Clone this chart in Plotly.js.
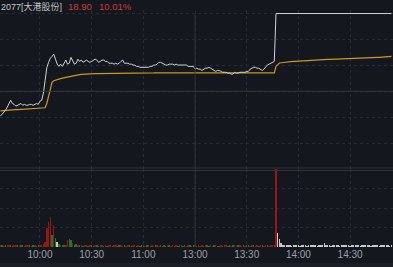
<!DOCTYPE html>
<html><head><meta charset="utf-8">
<script src="https://cdn.plot.ly/plotly-3.0.1.min.js"></script>
<style>html,body{margin:0;padding:0;background:#14171d;overflow:hidden}#c{width:393px;height:267px}</style>
</head><body><div id="c"></div>
<script>
// ---- data ----
const stockName = "2077[大港股份]";
const lastPrice = "18.90";
const changePct = "10.01%";
const prevClose = 17.18;
const limitUp = 18.90;
const limitDown = 15.46;
const firstMinute = 7; // minute index (09:30 = 0, 13:00 = 120) of the first sample
const tickMinutes = [30, 60, 90, 120, 150, 180, 210];
const tickLabels = ["10:00", "10:30", "11:00", "13:00", "13:30", "14:00", "14:30"];

const price = [
16.63,16.67,16.72,16.76,16.83,16.91,16.98,16.91,16.89,16.85,
16.87,16.89,16.91,16.87,16.89,16.87,16.87,16.89,16.89,16.87,
16.89,16.91,16.89,16.96,16.98,17.14,17.42,17.71,17.82,17.91,
17.95,18.00,17.89,17.78,17.73,17.78,17.73,17.80,17.87,17.78,
17.80,17.93,17.87,17.78,17.80,17.89,17.84,17.87,17.82,17.84,
17.87,17.84,17.82,17.84,17.87,17.89,17.87,17.82,17.84,17.87,
17.87,17.84,17.84,17.80,17.80,17.80,17.78,17.80,17.78,17.80,
17.84,17.87,17.80,17.80,17.80,17.78,17.78,17.76,17.76,17.73,
17.73,17.71,17.71,17.71,17.71,17.71,17.71,17.73,17.73,17.76,
17.76,17.78,17.82,17.82,17.80,17.78,17.76,17.76,17.78,17.78,
17.78,17.76,17.78,17.76,17.76,17.76,17.76,17.76,17.76,17.73,
17.73,17.73,17.73,17.67,17.69,17.67,17.67,17.64,17.67,17.69,
17.69,17.71,17.69,17.67,17.64,17.62,17.64,17.64,17.62,17.60,
17.60,17.60,17.58,17.58,17.56,17.56,17.60,17.58,17.58,17.60,
17.60,17.60,17.60,17.62,17.62,17.67,17.69,17.71,17.71,17.69,
17.69,17.67,17.64,17.67,17.73,17.76,17.78,17.80,17.82,17.84,
18.90,18.90,18.90,18.90,18.90,18.90,18.90,18.90,18.90,18.90,
18.90,18.90,18.90,18.90,18.90,18.90,18.90,18.90,18.90,18.90,
18.90,18.90,18.90,18.90,18.90,18.90,18.90,18.90,18.90,18.90,
18.90,18.90,18.90,18.90,18.90,18.90,18.90,18.90,18.90,18.90,
18.90,18.90,18.90,18.90,18.90,18.90,18.90,18.90,18.90,18.90,
18.90,18.90,18.90,18.90,18.90,18.90,18.90,18.90,18.90,18.90,
18.90,18.90,18.90,18.90,18.90,18.90,18.90,18.90
];

const avgPrice = [
16.746,16.751,16.753,16.755,16.760,16.762,16.766,16.769,16.771,16.773,
16.775,16.777,16.780,16.782,16.784,16.786,16.786,16.788,16.791,16.793,
16.793,16.795,16.795,16.797,16.797,16.800,16.815,16.915,17.092,17.268,
17.379,17.412,17.428,17.439,17.450,17.461,17.472,17.481,17.490,17.499,
17.507,17.516,17.523,17.529,17.536,17.543,17.547,17.552,17.556,17.558,
17.560,17.563,17.565,17.567,17.567,17.569,17.569,17.569,17.572,17.572,
17.572,17.574,17.574,17.574,17.576,17.576,17.576,17.576,17.576,17.578,
17.578,17.578,17.578,17.578,17.578,17.580,17.580,17.580,17.580,17.583,
17.583,17.583,17.583,17.583,17.585,17.585,17.585,17.585,17.585,17.585,
17.587,17.587,17.587,17.587,17.587,17.587,17.587,17.589,17.589,17.589,
17.589,17.589,17.589,17.589,17.589,17.589,17.589,17.591,17.591,17.591,
17.591,17.591,17.591,17.591,17.591,17.591,17.591,17.591,17.591,17.591,
17.591,17.591,17.591,17.591,17.589,17.589,17.589,17.589,17.589,17.589,
17.589,17.589,17.589,17.589,17.587,17.587,17.587,17.587,17.587,17.587,
17.587,17.587,17.587,17.587,17.587,17.587,17.587,17.587,17.587,17.587,
17.587,17.587,17.587,17.587,17.587,17.587,17.587,17.587,17.587,17.587,
17.733,17.766,17.806,17.811,17.817,17.822,17.828,17.831,17.834,17.837,
17.839,17.842,17.845,17.848,17.850,17.852,17.854,17.856,17.858,17.861,
17.863,17.865,17.867,17.870,17.872,17.874,17.876,17.878,17.881,17.883,
17.885,17.887,17.889,17.892,17.894,17.896,17.898,17.900,17.903,17.905,
17.907,17.909,17.911,17.913,17.914,17.915,17.916,17.917,17.918,17.919,
17.920,17.921,17.922,17.923,17.924,17.925,17.926,17.927,17.928,17.929,
17.930,17.932,17.934,17.937,17.940,17.943,17.947,17.951
];

const volume = [
3,2,1,2,3,2,2,1,2,3,
2,1,2,2,1,2,3,2,1,2,
2,1,2,3,2,4,
7,24,32,38,15,28,12,7,4,3,
2,3,2,9,10,9,5,3,4,2,2,
2,1,2,2,1,3,2,1,2,2,
1,2,2,1,2,1,3,2,1,2,
2,1,2,2,1,2,1,2,2,1,
3,2,1,2,1,2,2,1,2,2,
1,2,1,2,2,1,2,1,2,1,
2,2,1,2,1,2,1,2,2,1,
2,1,2,2,1,2,2,1,2,1,
2,1,2,2,1,2,1,2,2,1,
1,2,1,2,2,1,2,1,2,2,
1,2,2,1,2,1,2,2,1,2,
2,1,2,1,2,2,1,2,2,1,
2,3,3,
100,18,10,5,3,3,
2,2,2,1,2,2,2,2,1,2,
2,2,1,2,2,2,2,2,1,2,
2,2,5,2,2,2,1,2,2,2,
2,1,2,2,2,2,2,1,2,2,
2,2,2,1,2,2,2,2,2,1,
2,2,2,2,1,2,2,2,2,2,
1,2
];

// r = up minute, g = down minute, w = unchanged
const direction =
  "rgrgrrggrrgrggrrrgrgrggrrr" +
  "rrrrgrgwgrggrrggrggrg" +
  "rgrrgrggrg" + "grrgrgrrgr" + "rggrrgrrgg" + "rrgrggrrgr" + "grrgrrgrgg" +
  "rgrrgrgrrg" + "grrgrgrgrr" + "rgrggrrgrg" + "grgrrggrgr" + "rgrrgrggrr" +
  "grrgrgrrgr" + "rrg" +
  "r" +
  "wwwwwwwwww" + "wwwwwwwwww" + "wwwwwwwwww" + "wwwwwwwwww" + "wwwwwwwwww" +
  "wwwwwwwwww" + "wwwwwww";

// ---- drawing ----
const H = 267;
const py = p => 1 - p / H;              // pixel row -> paper fraction
const minutes = price.map((_, k) => firstMinute + k);
const colorOf = {r: "#9a1515", g: "#1a7a24", w: "#c8c8c8"};
const barColors = direction.split("").map(c => colorOf[c]);
const step = (limitUp - prevClose) / 3;
const priceGrid = [-3, -2, -1, 0, 1, 2, 3].map(k => prevClose + k * step);

const grid = "#282b32";
const traces = [
  {type: "bar", x: minutes, y: volume, xaxis: "x", yaxis: "y2",
   marker: {color: barColors, line: {width: 0}}, width: 0.85, hoverinfo: "skip"},
  {type: "scatter", mode: "lines", x: minutes, y: avgPrice, xaxis: "x", yaxis: "y",
   line: {color: "#c99a1e", width: 1.2}, hoverinfo: "skip"},
  {type: "scatter", mode: "lines", x: minutes, y: price, xaxis: "x", yaxis: "y",
   line: {color: "#d2d2d2", width: 1}, hoverinfo: "skip"}
];

const tf = "Liberation Sans, Arial, Noto Sans CJK SC, sans-serif";
const layout = {
  width: 393, height: 267,
  margin: {l: 0, r: 0, t: 0, b: 0},
  paper_bgcolor: "#14171d", plot_bgcolor: "#14171d",
  showlegend: false, bargap: 0,
  xaxis: {range: [6.8, 234.9], anchor: "y2", tickmode: "array",
          tickvals: tickMinutes, ticktext: tickLabels, ticks: "",
          showgrid: true, gridcolor: grid, griddash: "dot", gridwidth: 1,
          zeroline: false, showline: false, fixedrange: true,
          tickfont: {family: tf, size: 10, color: "#9da1a8"}},
  yaxis: {domain: [py(169), py(9.9)], range: [limitDown, 18.98],
          tickmode: "array", tickvals: priceGrid, showticklabels: false,
          showgrid: true, gridcolor: grid, griddash: "dot", zeroline: false, fixedrange: true},
  yaxis2: {domain: [py(247), py(169)], range: [0, 100],
           tickmode: "array", tickvals: [25, 50, 75], showticklabels: false,
           showgrid: true, gridcolor: grid, griddash: "dot", zeroline: false, fixedrange: true},
  shapes: [
    {type: "line", xref: "paper", yref: "y", x0: 0, x1: 1, y0: prevClose, y1: prevClose,
     line: {color: "#34373e", width: 1}},
    {type: "line", xref: "paper", yref: "paper", x0: 0, x1: 1, y0: py(168), y1: py(168),
     line: {color: "#30333a", width: 1}},
    {type: "line", xref: "paper", yref: "paper", x0: 0, x1: 1, y0: py(170.5), y1: py(170.5),
     line: {color: "#30333a", width: 1}},
    {type: "line", xref: "x", yref: "paper", x0: 120, x1: 120, y0: py(247), y1: py(13.5),
     line: {color: "#2e3138", width: 1}},
    {type: "rect", xref: "paper", yref: "paper", x0: 0, x1: 1, y0: 0, y1: py(263),
     fillcolor: "#1b1e25", line: {width: 0}, layer: "below"}
  ],
  annotations: [
    {xref: "paper", yref: "paper", x: 0, y: py(6), xanchor: "left", yanchor: "middle",
     text: stockName, showarrow: false, borderpad: 0,
     font: {family: tf, size: 9, color: "#c4c4c4"}},
    {xref: "paper", yref: "paper", x: 67 / 393, y: py(6), xanchor: "left", yanchor: "middle",
     text: lastPrice, showarrow: false, borderpad: 0,
     font: {family: tf, size: 9.5, color: "#d23a3a"}},
    {xref: "paper", yref: "paper", x: 98 / 393, y: py(6), xanchor: "left", yanchor: "middle",
     text: changePct, showarrow: false, borderpad: 0,
     font: {family: tf, size: 9.5, color: "#d23a3a"}}
  ]
};

Plotly.newPlot("c", traces, layout, {displayModeBar: false, staticPlot: true});
</script>
</body></html>
